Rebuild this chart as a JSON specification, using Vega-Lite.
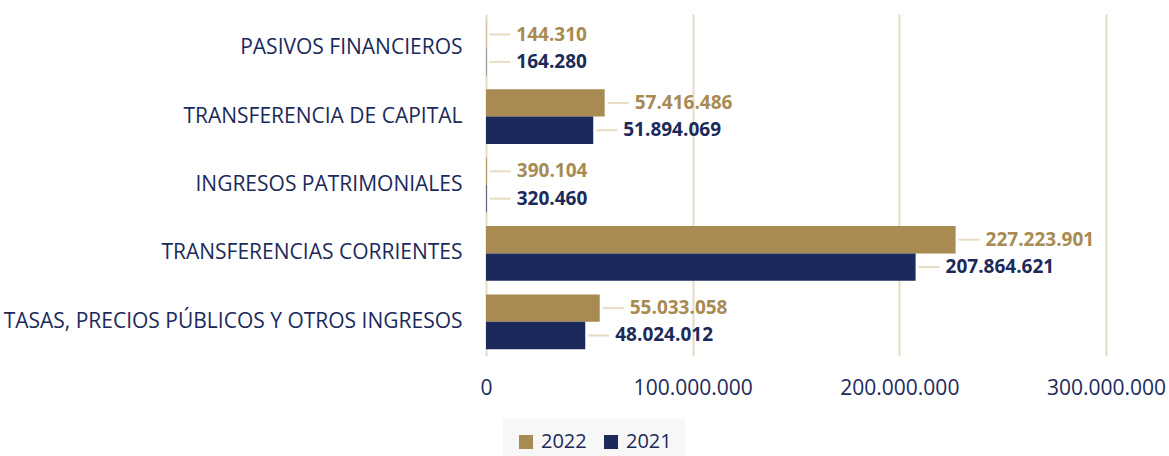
{
  "$schema": "https://vega.github.io/schema/vega-lite/v6.json",
  "autosize": {"type": "none"},
  "padding": {"left": 486, "top": 14, "right": 63, "bottom": 100},
  "width": 620,
  "height": 342,
  "background": "white",
  "config": {
    "locale": {"number": {"decimal": ",", "thousands": ".", "grouping": [3], "currency": ["", " €"]}},
    "view": {"stroke": null},
    "font": "Open Sans"
  },
  "data": {
    "values": [
      {"categoria": "PASIVOS FINANCIEROS", "anio": "2022", "valor": 144310},
      {"categoria": "PASIVOS FINANCIEROS", "anio": "2021", "valor": 164280},
      {"categoria": "TRANSFERENCIA DE CAPITAL", "anio": "2022", "valor": 57416486},
      {"categoria": "TRANSFERENCIA DE CAPITAL", "anio": "2021", "valor": 51894069},
      {"categoria": "INGRESOS PATRIMONIALES", "anio": "2022", "valor": 390104},
      {"categoria": "INGRESOS PATRIMONIALES", "anio": "2021", "valor": 320460},
      {"categoria": "TRANSFERENCIAS CORRIENTES", "anio": "2022", "valor": 227223901},
      {"categoria": "TRANSFERENCIAS CORRIENTES", "anio": "2021", "valor": 207864621},
      {"categoria": "TASAS, PRECIOS PÚBLICOS Y OTROS INGRESOS", "anio": "2022", "valor": 55033058},
      {"categoria": "TASAS, PRECIOS PÚBLICOS Y OTROS INGRESOS", "anio": "2021", "valor": 48024012}
    ]
  },
  "encoding": {
    "y": {
      "field": "categoria", "type": "nominal",
      "sort": ["PASIVOS FINANCIEROS", "TRANSFERENCIA DE CAPITAL", "INGRESOS PATRIMONIALES", "TRANSFERENCIAS CORRIENTES", "TASAS, PRECIOS PÚBLICOS Y OTROS INGRESOS"],
      "scale": {"paddingInner": 0.2, "paddingOuter": 0.1},
      "axis": {"title": null, "domain": false, "ticks": false, "labelPadding": 24, "labelFontSize": 21, "labelColor": "#1B2A5A", "labelFont": "Open Sans", "labelLimit": 600}
    },
    "yOffset": {"field": "anio", "type": "nominal", "sort": ["2022", "2021"]},
    "x": {
      "field": "valor", "type": "quantitative",
      "scale": {"domain": [0, 300000000], "nice": false},
      "axis": {"title": null, "values": [0, 100000000, 200000000, 300000000], "format": ",d", "domain": false, "ticks": false, "labelFlush": false, "labelPadding": 21, "labelFontSize": 21, "labelColor": "#1B2A5A", "labelFont": "Open Sans", "gridColor": "#E6DCC3", "gridWidth": 2, "gridOpacity": 1}
    }
  },
  "layer": [
    {
      "mark": {"type": "bar"},
      "encoding": {
        "color": {
          "field": "anio", "type": "nominal",
          "scale": {"domain": ["2022", "2021"], "range": ["#A88B52", "#1B2A5A"]},
          "legend": {"title": null, "orient": "none", "legendX": 17, "legendY": 405, "direction": "horizontal", "fillColor": "#F7F7F7", "padding": 13, "symbolType": "square", "symbolSize": 196, "symbolStrokeWidth": 0, "symbolOpacity": 1, "labelFontSize": 20, "labelColor": "#1B2A5A", "labelFont": "Open Sans", "columnPadding": 14, "labelOffset": 5}
        }
      }
    },
    {
      "mark": {"type": "rule", "xOffset": 3, "x2Offset": 24, "strokeWidth": 2, "color": "#E6DCC3"},
      "encoding": {"x2": {"field": "valor"}}
    },
    {
      "mark": {"type": "text", "align": "left", "baseline": "middle", "dx": 30, "fontSize": 19, "fontWeight": "bold", "font": "Open Sans"},
      "encoding": {
        "text": {"field": "valor", "type": "quantitative", "format": ",d"},
        "color": {"field": "anio", "type": "nominal", "scale": {"domain": ["2022", "2021"], "range": ["#A88B52", "#1B2A5A"]}, "legend": null}
      }
    }
  ]
}
